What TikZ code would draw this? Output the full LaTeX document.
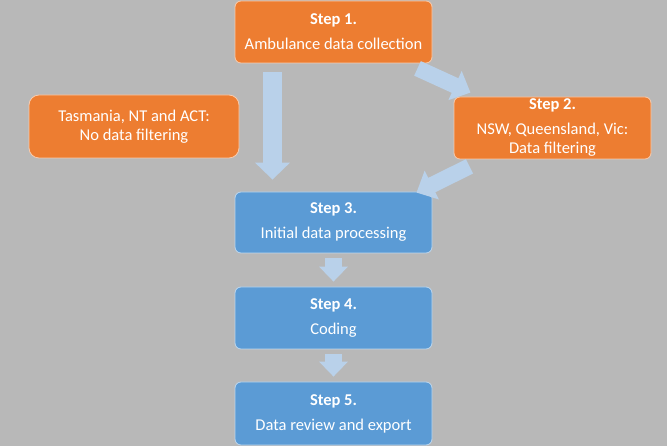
\documentclass[tikz,border=0pt]{standalone}
\usepackage{fontspec}
\setmainfont{Carlito}
\usetikzlibrary{arrows.meta,calc}
\definecolor{bg}{HTML}{B8B8B8}
\definecolor{orng}{HTML}{ED7D31}
\definecolor{blu}{HTML}{5B9BD5}
\definecolor{arr}{HTML}{B9D1EA}
\definecolor{oline}{HTML}{F8CBAD}
\definecolor{bline}{HTML}{BDD7EE}
\tikzset{
  box/.style={rounded corners=6pt, line width=0.8pt, text=white, align=center,
    minimum width=197pt, font=\fontsize{16.5}{19}\selectfont, inner sep=0pt},
  obox/.style={box, fill=orng, draw=oline},
  bbox/.style={box, fill=blu, draw=bline},
  bigarrow/.style={draw=arr, line width=19pt, -{Triangle[width=34pt,length=17pt]}},
  diagarrow/.style={draw=arr, line width=16pt, -{Triangle[width=31pt,length=17pt]}},
  smallarrow/.style={draw=arr, line width=17pt, -{Triangle[width=28pt,length=15pt]}},
}
\begin{document}
\begin{tikzpicture}[x=1pt,y=-1pt]
\fill[bg] (0,0) rectangle (667,446);
\useasboundingbox (0,0) rectangle (667,446);
\node[obox, minimum height=62pt] (s1) at (333.5,32) {\textbf{Step 1.}\\[6pt]Ambulance data collection};
\node[obox, minimum height=62pt] (s2) at (552.5,128) {\textbf{Step 2.}\\[6pt]NSW, Queensland, Vic:\\Data filtering};
\node[obox, minimum height=63pt, minimum width=210pt, rounded corners=10pt] (tas) at (134,126.5) {Tasmania, NT and ACT:\\No data filtering};
\node[bbox, minimum height=61pt] (s3) at (333.5,222.5) {\textbf{Step 3.}\\[6pt]Initial data processing};
\node[bbox, minimum height=62pt] (s4) at (333.5,318) {\textbf{Step 4.}\\[6pt]Coding};
\node[bbox, minimum height=63pt] (s5) at (333.5,413.5) {\textbf{Step 5.}\\[6pt]Data review and export};
% arrows
\draw[bigarrow] ([xshift=-61pt,yshift=-9pt]s1.south) -- ([xshift=-61pt,yshift=12pt]s3.north);
\draw[diagarrow] ([xshift=84pt,yshift=-5pt]s1.south) -- ([xshift=-82pt,yshift=4pt]s2.north);
\draw[diagarrow] ([xshift=-83pt,yshift=-7pt]s2.south) -- ([xshift=83pt,yshift=-1pt]s3.north);
\draw[smallarrow] ([yshift=-5pt]s3.south) -- ([yshift=5pt]s4.north);
\draw[smallarrow] ([yshift=-5pt]s4.south) -- ([yshift=5pt]s5.north);
\end{tikzpicture}
\end{document}
